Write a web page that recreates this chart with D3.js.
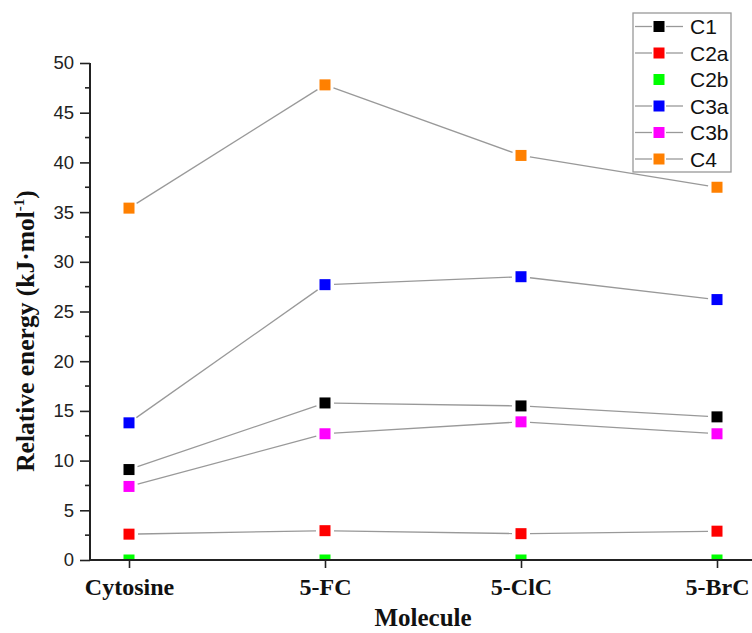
<!DOCTYPE html>
<html>
<head>
<meta charset="utf-8">
<script src="https://cdn.jsdelivr.net/npm/d3@7"></script>
<style>
  body { margin: 0; background: #fff; }
</style>
</head>
<body>
<script>
const molecules = ["Cytosine", "5-FC", "5-ClC", "5-BrC"];
const seriesNames = ["C1", "C2a", "C2b", "C3a", "C3b", "C4"];
const c1 = [9.1, 15.8, 15.5, 14.4];
const c2a = [2.6, 2.95, 2.65, 2.9];
const c2b = [0, 0, 0, 0];
const c3a = [13.8, 27.7, 28.5, 26.2];
const c3b = [7.4, 12.7, 13.9, 12.7];
const c4 = [35.4, 47.8, 40.7, 37.5];
const yTicks = [0, 5, 10, 15, 20, 25, 30, 35, 40, 45, 50];
const colors = ["#000000", "#ff0000", "#00ff00", "#0000ff", "#ff00ff", "#ff8000"];
const showLine = [true, true, false, true, true, true];

const allValues = [c1, c2a, c2b, c3a, c3b, c4];

let svgWidth = 752, svgHeight = 633;
let plotLeft = 90, plotBottom = 560, plotTop = 63;
let msize = 11;

const svg = d3.select("body")
  .append("svg")
  .attr("width", svgWidth)
  .attr("height", svgHeight);

const x = d3.scalePoint()
  .domain(molecules)
  .range([129, 717]);

const y = d3.scaleLinear()
  .domain([0, 50])
  .range([plotBottom, plotTop]);

// clip for plot area
svg.append("clipPath")
  .attr("id", "plotclip")
  .append("rect")
  .attr("x", plotLeft)
  .attr("y", 0)
  .attr("width", svgWidth - plotLeft)
  .attr("height", plotBottom);

const plot = svg.append("g").attr("clip-path", "url(#plotclip)");

// lines, broken around markers
allValues.forEach(function(vals, s) {
  if (!showLine[s]) return;
  for (let i = 0; i < vals.length - 1; i++) {
    let x1 = x(molecules[i]), y1 = y(vals[i]);
    let x2 = x(molecules[i + 1]), y2 = y(vals[i + 1]);
    let len = Math.hypot(x2 - x1, y2 - y1);
    let ux = (x2 - x1) / len, uy = (y2 - y1) / len;
    let gap = 9;
    plot.append("line")
      .attr("x1", x1 + ux * gap)
      .attr("y1", y1 + uy * gap)
      .attr("x2", x2 - ux * gap)
      .attr("y2", y2 - uy * gap)
      .attr("stroke", "#999")
      .attr("stroke-width", 1.3);
  }
});

// markers
allValues.forEach(function(vals, s) {
  plot.selectAll(".m" + s)
    .data(vals)
    .enter()
    .append("rect")
    .attr("x", function(d, i) { return x(molecules[i]) - msize / 2; })
    .attr("y", function(d) { return y(d) - msize / 2; })
    .attr("width", msize)
    .attr("height", msize)
    .attr("fill", colors[s]);
});

// y axis
const yAxis = svg.append("g")
  .attr("transform", "translate(" + plotLeft + ",0)")
  .call(d3.axisLeft(y).tickValues(yTicks).tickSize(10).tickPadding(6).tickSizeOuter(0));

yAxis.selectAll(".tick text")
  .attr("font-family", "Liberation Sans, Arial, sans-serif")
  .attr("font-size", "18.5px")
  .attr("fill", "#222");

yAxis.selectAll(".tick line").attr("stroke", "#222").attr("stroke-width", 1.6);

// minor ticks
const minor = d3.range(2.5, 50, 5);
yAxis.selectAll(".minor")
  .data(minor)
  .enter()
  .append("line")
  .attr("x1", -5)
  .attr("x2", 0)
  .attr("y1", function(d) { return y(d); })
  .attr("y2", function(d) { return y(d); })
  .attr("stroke", "#222")
  .attr("stroke-width", 1.6);

yAxis.select(".domain")
  .attr("stroke", "#222")
  .attr("stroke-width", 2)
  .attr("d", "M0," + y(50) + "V" + (plotBottom + 1));

// x axis
const xAxis = svg.append("g")
  .attr("transform", "translate(0," + plotBottom + ")")
  .call(d3.axisBottom(x).tickSize(8).tickPadding(10).tickSizeOuter(0));

xAxis.select(".domain")
  .attr("stroke", "#222")
  .attr("stroke-width", 2)
  .attr("d", "M" + (plotLeft - 1) + ",0H" + svgWidth);

xAxis.selectAll(".tick line").attr("stroke", "#222").attr("stroke-width", 1.6);

xAxis.selectAll(".tick text")
  .attr("font-family", "Liberation Serif, Times New Roman, serif")
  .attr("font-weight", "bold")
  .attr("font-size", "24px")
  .attr("fill", "#111");

// axis titles
svg.append("text")
  .attr("x", 423)
  .attr("y", 626)
  .attr("text-anchor", "middle")
  .attr("font-family", "Liberation Serif, Times New Roman, serif")
  .attr("font-weight", "bold")
  .attr("font-size", "25px")
  .attr("fill", "#111")
  .text("Molecule");

const ytitle = svg.append("text")
  .attr("transform", "translate(34,331) rotate(-90)")
  .attr("text-anchor", "middle")
  .attr("font-family", "Liberation Serif, Times New Roman, serif")
  .attr("font-weight", "bold")
  .attr("font-size", "25.5px")
  .attr("fill", "#111");
ytitle.append("tspan").text("Relative energy (kJ\u00b7mol");
ytitle.append("tspan").attr("font-size", "15px").attr("dy", -10).text("-1");
ytitle.append("tspan").attr("dy", 10).text(")");

// legend
const legend = svg.append("g");
legend.append("rect")
  .attr("x", 633)
  .attr("y", 13)
  .attr("width", 98)
  .attr("height", 159)
  .attr("fill", "#fff")
  .attr("stroke", "#999")
  .attr("stroke-width", 1.3);

const items = legend.selectAll(".item")
  .data(seriesNames)
  .enter()
  .append("g")
  .attr("transform", function(d, i) { return "translate(0," + (26.5 + i * 26.5) + ")"; });

items.filter(function(d, i) { return showLine[i]; })
  .each(function() {
    d3.select(this).append("line")
      .attr("x1", 635).attr("x2", 652).attr("y1", 0).attr("y2", 0)
      .attr("stroke", "#999").attr("stroke-width", 1.3);
    d3.select(this).append("line")
      .attr("x1", 666).attr("x2", 683).attr("y1", 0).attr("y2", 0)
      .attr("stroke", "#999").attr("stroke-width", 1.3);
  });

items.append("rect")
  .attr("x", 659 - msize / 2)
  .attr("y", -msize / 2)
  .attr("width", msize)
  .attr("height", msize)
  .attr("fill", function(d, i) { return colors[i]; });

items.append("text")
  .attr("x", 690)
  .attr("y", 7.5)
  .attr("font-family", "Liberation Sans, Arial, sans-serif")
  .attr("font-size", "21px")
  .attr("fill", "#111")
  .text(function(d) { return d; });
</script>
</body>
</html>
